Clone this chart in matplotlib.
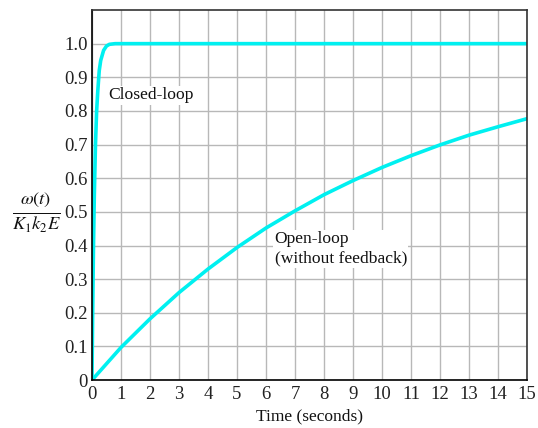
import numpy as np
import matplotlib
matplotlib.use('Agg')
import matplotlib.pyplot as plt

# values
t_open = [0, 1, 2, 3, 4, 5, 6, 7, 8, 9, 10, 11, 12, 13, 14, 15]
w_open = [0, 0.097, 0.182, 0.26, 0.33, 0.394, 0.452, 0.503, 0.551, 0.593,
          0.632, 0.667, 0.699, 0.728, 0.753, 0.777]

t_closed = [0, 0.02, 0.05, 0.08, 0.12, 0.16, 0.2, 0.25, 0.3, 0.4, 0.5,
            0.6, 0.8, 1.0, 15]
w_closed = [0, 0.18, 0.39, 0.55, 0.70, 0.80, 0.86, 0.92, 0.95, 0.98, 0.993,
            0.998, 1.0, 1.0, 1.0]

xticks = list(range(0, 16))
yticks = [0, 0.1, 0.2, 0.3, 0.4, 0.5, 0.6, 0.7, 0.8, 0.9, 1.0]
ytick_labels = ['0', '0.1', '0.2', '0.3', '0.4', '0.5', '0.6', '0.7',
                '0.8', '0.9', '1.0']

plt.rcParams['font.family'] = ['Liberation Serif', 'DejaVu Serif']
plt.rcParams['mathtext.fontset'] = 'stix'

fig = plt.figure(figsize=(5.38, 4.28), dpi=100)
fig.patch.set_facecolor('white')
ax = fig.add_axes([0.171, 0.112, 0.8086, 0.8646])

cyan = '#00f0f0'
ax.plot(t_open, w_open, color=cyan, lw=2.6, solid_capstyle='round')
ax.plot(t_closed, w_closed, color=cyan, lw=2.6, solid_capstyle='round')

ax.set_xlim(0, 15)
ax.set_ylim(0, 1.1)
ax.set_xticks(xticks)
ax.set_yticks(yticks)
ax.set_yticklabels(ytick_labels)
ax.tick_params(length=0, labelsize=13.5, colors='#222222')
ax.tick_params(axis='x', pad=4.5)
ax.tick_params(axis='y', pad=3)
ax.grid(True, color='#b8b8b8', lw=1)
ax.set_axisbelow(True)

for side in ['left', 'bottom']:
	ax.spines[side].set_color('black')
	ax.spines[side].set_linewidth(1.2)
for side in ['top', 'right']:
	ax.spines[side].set_color('#333333')
	ax.spines[side].set_linewidth(1.2)

ax.text(0.55, 0.846, 'Closed-loop', fontsize=12.6, va='center', ha='left',
        color='#111111',
        bbox=dict(facecolor='white', edgecolor='none', pad=1))
ax.text(6.3, 0.39, 'Open-loop\n(without feedback)', fontsize=12.6,
        va='center', ha='left', linespacing=1.25, color='#111111',
        bbox=dict(facecolor='white', edgecolor='none', pad=1))

ax.set_xlabel('Time (seconds)', fontsize=12.5, labelpad=4, color='#111111')
fig.text(0.067, 0.502, r'$\frac{\omega(t)}{K_1k_2E}$', fontsize=19,
         ha='center', va='center', color='#111111')

fig.savefig('out.png', dpi=100, facecolor='white')
